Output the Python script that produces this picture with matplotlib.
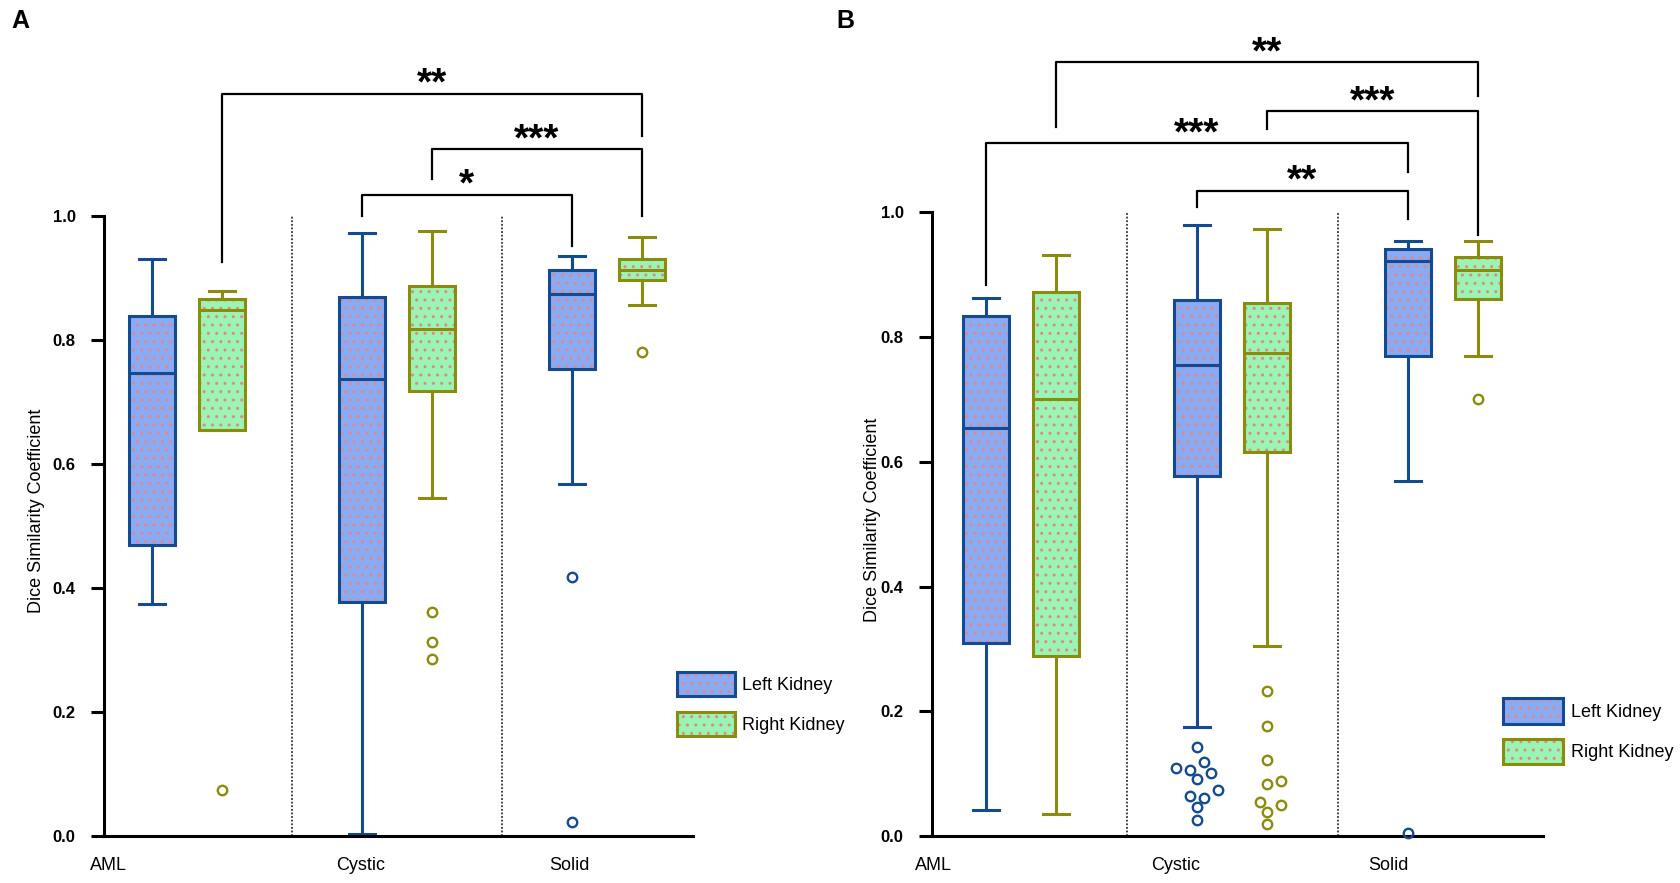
import numpy as np
import matplotlib.pyplot as plt
from matplotlib.patches import Patch, PathPatch
from matplotlib.legend_handler import HandlerTuple

plt.rcParams['font.family'] = ['Liberation Sans', 'DejaVu Sans']
plt.rcParams['hatch.linewidth'] = 1.0

groups = ['AML', 'Cystic', 'Solid']
sides = ['Left Kidney', 'Right Kidney']

# box summaries per group: whislo, q1, median, q3, whishi
a_left = [[0.375, 0.469, 0.747, 0.839, 0.931],
          [0.003, 0.378, 0.738, 0.870, 0.974],
          [0.568, 0.753, 0.874, 0.913, 0.936]]
a_right = [[0.655, 0.655, 0.849, 0.866, 0.880],
           [0.545, 0.718, 0.818, 0.888, 0.976],
           [0.857, 0.898, 0.913, 0.932, 0.966]]
a_left_out = [[], [], [0.418, 0.023]]
a_right_out = [[0.075], [0.362, 0.313, 0.286], [0.781]]

b_left = [[0.041, 0.309, 0.654, 0.834, 0.862],
          [0.174, 0.577, 0.755, 0.860, 0.979],
          [0.570, 0.769, 0.922, 0.941, 0.954]]
b_right = [[0.036, 0.289, 0.700, 0.872, 0.931],
           [0.304, 0.615, 0.775, 0.854, 0.974],
           [0.770, 0.861, 0.908, 0.928, 0.954]]
b_left_out = [[], [0.142, 0.119, 0.109, 0.106, 0.101, 0.091, 0.074, 0.064, 0.061, 0.047, 0.026], [0.005]]
b_right_out = [[], [0.232, 0.176, 0.122, 0.088, 0.084, 0.055, 0.050, 0.039, 0.020], [0.700]]

# significance brackets: box from, box to (0..5 = AML-L, AML-R, Cystic-L, ...),
# bracket height, left leg end, right leg end, stars
a_sig = [(1, 5, 1.198, 0.927, 1.129, '**'),
         (3, 5, 1.108, 1.061, 1.000, '***'),
         (2, 4, 1.035, 1.000, 0.953, '*')]
b_sig = [(1, 5, 1.241, 1.137, 1.186, '**'),
         (3, 5, 1.162, 1.133, 0.964, '***'),
         (0, 4, 1.111, 0.884, 1.065, '***'),
         (2, 4, 1.035, 1.009, 0.990, '**')]

edge = ['#124b92', '#8b8b0c']
face = ['#8aaaf2', '#9af5b4']
dotc = '#e2868a'
OFF = 1 / 6


def swarm(ax, x0, vals, d_px=11.0, step_px=7.0):
    ppx = ax.transData.transform((1, 0))[0] - ax.transData.transform((0, 0))[0]
    xs = np.zeros(len(vals))
    placed = []
    cands = [0]
    for j in range(1, 6):
        cands += [j, -j]
    for i in np.argsort(vals):
        yp = ax.transData.transform((x0, vals[i]))[1]
        for c in cands:
            if all(np.hypot(c * step_px - px, yp - py) >= d_px for px, py in placed):
                break
        placed.append((c * step_px, yp))
        xs[i] = x0 + c * step_px / ppx
    return xs


def panel(ax, left, right, left_out, right_out, sig, label_x, ytop, xlim, lab_xy):
    ax.set_xlim(*xlim)
    ax.set_ylim(0, ytop)
    pos_all = []
    for g in range(3):
        pos_all += [g - OFF, g + OFF]
    for s, (data, outs) in enumerate([(left, left_out), (right, right_out)]):
        stats = [dict(whislo=d[0], q1=d[1], med=d[2], q3=d[3], whishi=d[4], fliers=[]) for d in data]
        pos = [g + (2 * s - 1) * OFF for g in range(3)]
        lp = dict(color=edge[s], linewidth=2.2)
        res = ax.bxp(stats, positions=pos, widths=0.22, patch_artist=True, showfliers=False,
                     capwidths=0.125, whiskerprops=lp, capprops=lp,
                     medianprops=dict(color=edge[s], linewidth=2.2, zorder=5),
                     boxprops=dict(facecolor=face[s], edgecolor=dotc, linewidth=0, hatch='..'),
                     manage_ticks=False)
        for b in res['boxes']:
            ax.add_patch(PathPatch(b.get_path(), fill=False, edgecolor=edge[s],
                                   linewidth=2.2, zorder=4))
        for g in range(3):
            if outs[g]:
                xs = swarm(ax, pos[g], np.array(outs[g]))
                ax.plot(xs, outs[g], 'o', mfc='none', mec=edge[s], ms=6.8, mew=1.7,
                        clip_on=False, zorder=6)
    ax.vlines([0.5, 1.5], 0, 1.0, colors='#333333', linestyles=(0, (1, 1)), linewidth=1.3)
    for i, j, h, yl, yr, st in sig:
        x1, x2 = pos_all[i], pos_all[j]
        ax.plot([x1, x1, x2, x2], [yl, h, h, yr], color='black', lw=1.6, clip_on=False)
        ax.text((x1 + x2) / 2, h - 0.002, st, ha='center', va='baseline', fontsize=28,
                fontweight='bold')
    for k in ['top', 'right']:
        ax.spines[k].set_visible(False)
    for k in ['left', 'bottom']:
        ax.spines[k].set_linewidth(2.2)
    ax.spines['left'].set_bounds(0, 1)
    ax.set_yticks(np.arange(0, 1.01, 0.2))
    ax.set_yticklabels(['%.1f' % v for v in np.arange(0, 1.01, 0.2)], fontweight='bold', fontsize=12)
    ax.tick_params(axis='y', length=9.4, width=2.2, pad=11)
    ax.set_xticks(label_x)
    ax.set_xticklabels(groups, fontsize=13)
    ax.tick_params(axis='x', length=0, pad=15)
    ax.set_ylabel('Dice Similarity Coefficient', fontsize=13)
    ax.yaxis.set_label_coords(*lab_xy)


fig = plt.figure(figsize=(16.8, 8.83), dpi=100)
W, H = 1680, 883
axA = fig.add_axes([104 / W, 1 - 836 / H, (693 - 104) / W, (836 - 20) / H])
axB = fig.add_axes([932 / W, 1 - 836 / H, (1543 - 932) / W, (836 - 20) / H])

panel(axA, a_left, a_right, a_left_out, a_right_out, a_sig, [-0.376, 0.829, 1.82],
      (836 - 20) / 619.6, (-0.395, 2.41), (-0.100, 0.398))
panel(axB, b_left, b_right, b_left_out, b_right_out, b_sig, [-0.417, 0.731, 1.743],
      (836 - 20) / 623.6, (-0.422, 2.474), (-0.0835, 0.388))


def leg_handles():
    hs = []
    for s in range(2):
        hp = Patch(facecolor=face[s], edgecolor=dotc, hatch='..', linewidth=0)
        op = Patch(facecolor='none', edgecolor=edge[s], linewidth=2.2)
        hs.append((hp, op))
    return hs


fig.legend(leg_handles(), sides, handler_map={tuple: HandlerTuple(ndivide=1, pad=0)},
           loc='upper left', bbox_to_anchor=(677 / W, 1 - 672 / H), frameon=False,
           borderpad=0, borderaxespad=0, fontsize=13, handlelength=3.2, handleheight=1.66,
           labelspacing=0.89, handletextpad=0.39)
fig.legend(leg_handles(), sides, handler_map={tuple: HandlerTuple(ndivide=1, pad=0)},
           loc='upper left', bbox_to_anchor=(1503 / W, 1 - 698 / H), frameon=False,
           borderpad=0, borderaxespad=0, fontsize=13, handlelength=3.35, handleheight=1.8,
           labelspacing=0.85, handletextpad=0.39)

fig.text(11 / W, 1 - 9 / H, 'A', ha='left', va='top', fontsize=18, fontweight='bold')
fig.text(836 / W, 1 - 9 / H, 'B', ha='left', va='top', fontsize=18, fontweight='bold')

fig.savefig('out.png', dpi=100)
